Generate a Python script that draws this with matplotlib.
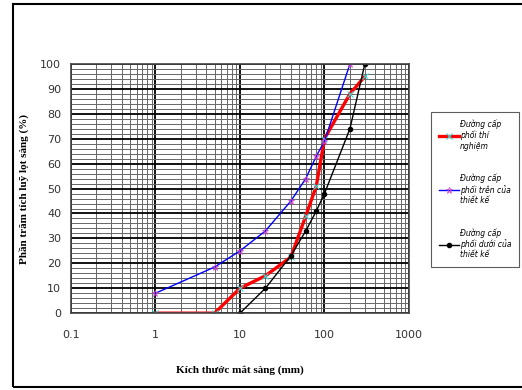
import matplotlib.pyplot as plt
from matplotlib.ticker import FixedLocator, MultipleLocator, NullFormatter
from matplotlib.patches import Rectangle

# sieve sizes (mm) and cumulative passing (%)
test_size = [1, 5, 10, 20, 40, 60, 80, 100, 200, 300]
test_pass = [0, 0, 10, 15, 22.5, 39, 51, 70, 88, 95]

upper_size = [1, 5, 10, 20, 40, 60, 80, 100, 200]
upper_pass = [8, 18.5, 25, 33, 45, 54, 63, 69, 100]

lower_size = [10, 20, 40, 60, 80, 100, 200, 300]
lower_pass = [0, 10, 23, 33, 41, 48, 74, 100]

labels = ['Đường cấp\nphối thí\nnghiệm',
          'Đường cấp\nphối trên của\nthiết kế',
          'Đường cấp\nphối dưới của\nthiết kế']
x_ticks = [0.1, 1, 10, 100, 1000]
x_ticklabels = ['0.1', '1', '10', '100', '1000']

fig = plt.figure(figsize=(5.22, 3.90), dpi=100)
ax = fig.add_axes([0.136, 0.197, 0.6475, 0.639])

ax.set_xscale('log')
ax.set_xlim(0.1, 1000)
ax.set_ylim(0, 100)

# grid: bold major lines, thinner minor lines
ax.set_xticks(x_ticks)
ax.set_xticklabels(x_ticklabels)
minor_x = [m * 10.0 ** e for e in range(-1, 3) for m in range(2, 10)]
ax.xaxis.set_minor_locator(FixedLocator(minor_x))
ax.xaxis.set_minor_formatter(NullFormatter())
ax.yaxis.set_major_locator(MultipleLocator(10))
ax.yaxis.set_minor_locator(MultipleLocator(2))
ax.grid(which='major', color='black', lw=1.3)
ax.grid(which='minor', color='#666666', lw=0.7)
ax.set_axisbelow(True)

h1, = ax.plot(test_size, test_pass, color='red', lw=2.4,
              marker='x', ms=5, mec='#33dddd', mew=0.8)
h2, = ax.plot(upper_size, upper_pass, color='blue', lw=1.0,
              marker='*', ms=5, mec='#cc44cc', mfc='none', mew=0.6)
h3, = ax.plot(lower_size, lower_pass, color='black', lw=1.0,
              marker='o', ms=3)

for s in ax.spines.values():
    s.set_color('#444444')
    s.set_linewidth(1.2)

ax.tick_params(which='both', length=0, pad=7, labelsize=8, colors='#333333')
ax.tick_params(axis='x', pad=12)

ax.set_xlabel('Kích thước mắt sàng (mm)', family='Liberation Serif',
              fontsize=8, fontweight='bold', labelpad=18)
ax.set_ylabel('Phần trăm tích luỹ lọt sàng (%)', family='Liberation Serif',
              fontsize=8, fontweight='bold', labelpad=8)

leg = fig.legend([h1, h2, h3], labels, loc='upper left',
                 bbox_to_anchor=(0.826, 0.712), frameon=True, fancybox=False,
                 edgecolor='#333333', handlelength=2.6, labelspacing=3.0,
                 borderpad=1.0, borderaxespad=0, handletextpad=0.2,
                 prop={'family': 'DejaVu Sans', 'style': 'italic', 'size': 5.5})
leg.get_frame().set_linewidth(0.8)

# outer chart border
fig.patches.append(Rectangle((13 / 522, 3 / 390), 1.2, 383 / 390,
                             transform=fig.transFigure, fill=False,
                             edgecolor='black', lw=1.5))

fig.savefig('out.png', dpi=100)
